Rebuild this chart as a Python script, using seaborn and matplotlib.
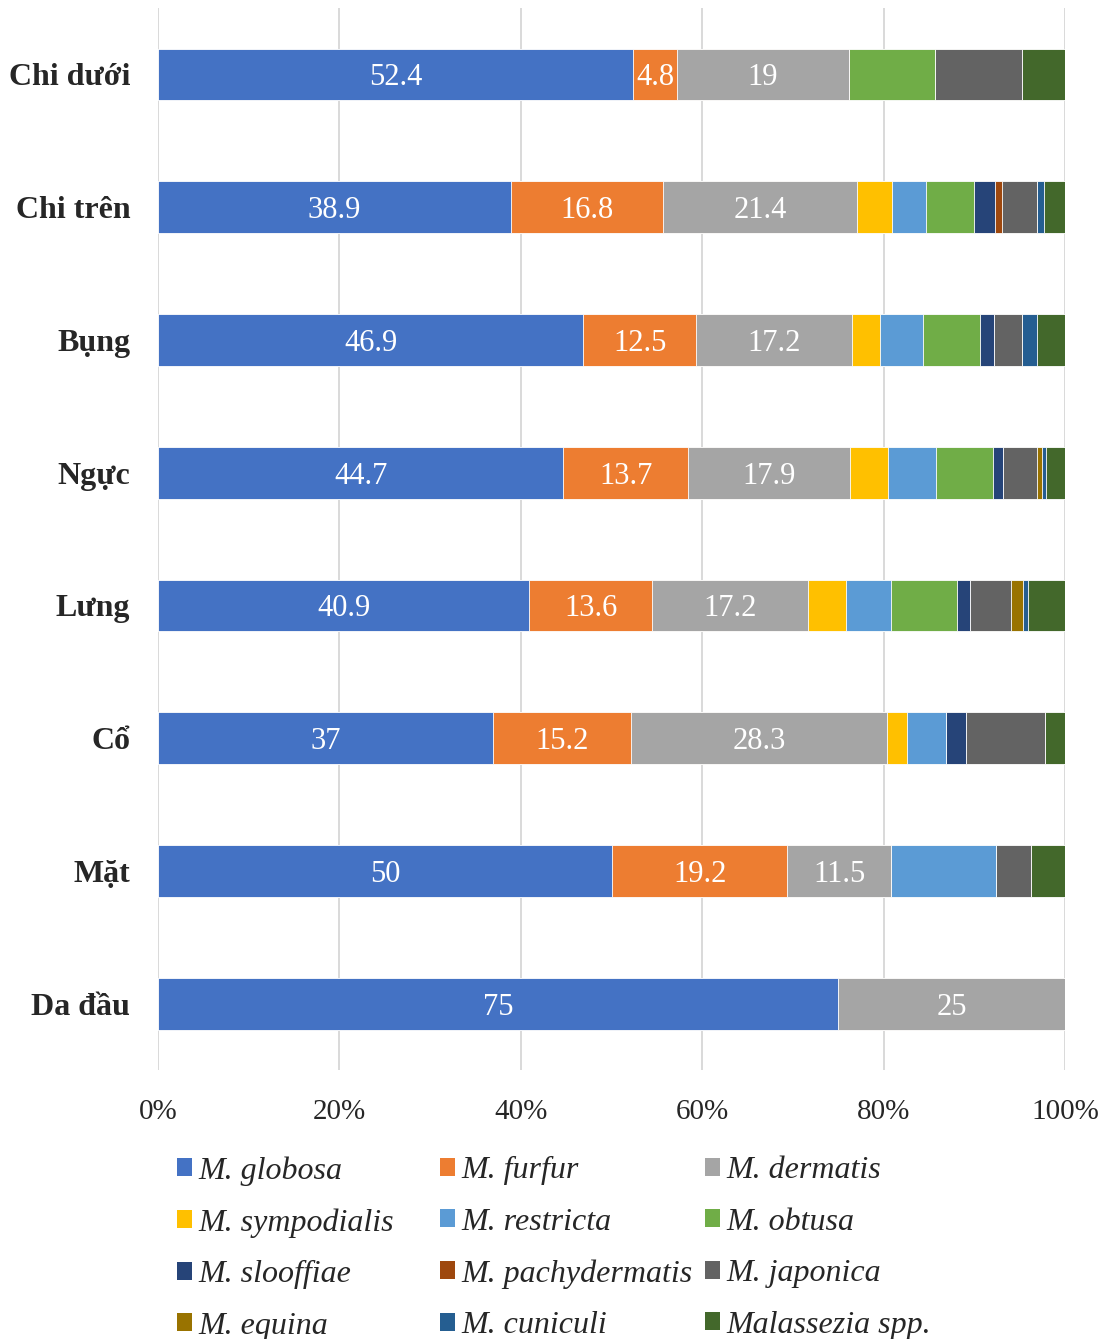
import numpy as np
import pandas as pd
import matplotlib
matplotlib.use("Agg")
import matplotlib.pyplot as plt
import seaborn as sns
from matplotlib.patches import Patch

# Body sites (top to bottom) and species shares in percent
sites = ["Chi dưới", "Chi trên", "Bụng", "Ngực", "Lưng", "Cổ", "Mặt", "Da đầu"]

globosa = [52.4, 38.9, 46.9, 44.7, 40.9, 37, 50, 75]
furfur = [4.8, 16.8, 12.5, 13.7, 13.6, 15.2, 19.2, 0]
dermatis = [19, 21.4, 17.2, 17.9, 17.2, 28.3, 11.5, 25]
sympodialis = [0, 3.8, 3.1, 4.2, 4.1, 2.2, 0, 0]
restricta = [0, 3.8, 4.7, 5.3, 5.0, 4.3, 11.5, 0]
obtusa = [9.5, 5.3, 6.3, 6.3, 7.3, 0, 0, 0]
slooffiae = [0, 2.3, 1.6, 1.1, 1.4, 2.2, 0, 0]
pachydermatis = [0, 0.8, 0, 0, 0, 0, 0, 0]
japonica = [9.5, 3.8, 3.1, 3.7, 4.5, 8.7, 3.8, 0]
equina = [0, 0, 0, 0.5, 1.4, 0, 0, 0]
cuniculi = [0, 0.8, 1.6, 0.5, 0.5, 0, 0, 0]
spp = [4.8, 2.3, 3.1, 2.1, 4.1, 2.2, 3.8, 0]

species = ["M. globosa", "M. furfur", "M. dermatis", "M. sympodialis",
           "M. restricta", "M. obtusa", "M. slooffiae", "M. pachydermatis",
           "M. japonica", "M. equina", "M. cuniculi", "Malassezia spp."]
series = [globosa, furfur, dermatis, sympodialis, restricta, obtusa,
          slooffiae, pachydermatis, japonica, equina, cuniculi, spp]
colors = ["#4472C4", "#ED7D31", "#A5A5A5", "#FFC000", "#5B9BD5", "#70AD47",
          "#264478", "#9E480E", "#636363", "#997300", "#255E91", "#43682B"]
labelled = ["M. globosa", "M. furfur", "M. dermatis"]

sns.set_theme(style="white")
plt.rcParams["font.family"] = ["Liberation Serif", "DejaVu Serif"]

wide = pd.DataFrame(dict(zip(species, series)), index=sites)
share = wide.div(wide.sum(axis=1), axis=0) * 100
cum = share.cumsum(axis=1)
start = cum - share

fig = plt.figure(figsize=(11.09, 13.39), dpi=100)
ax = fig.add_axes([0.1425, 0.2009, 0.8179, 0.7931])

# 100% stacked bars: draw cumulative totals from the last species backwards
for name, col in reversed(list(zip(species, colors))):
    d = pd.DataFrame({"site": sites, "cum": cum[name].values})
    sns.barplot(data=d, x="cum", y="site", order=sites, orient="h",
                color=col, saturation=1, width=0.39,
                edgecolor="white", linewidth=0.6, ax=ax)

# value labels on the three main species
for name in labelled:
    for i, site in enumerate(sites):
        v = wide.loc[site, name]
        if v > 0:
            xc = start.loc[site, name] + share.loc[site, name] / 2
            ax.text(xc, i, f"{v:g}", ha="center", va="center_baseline",
                    color="white", fontsize=22)

ax.set_xlim(0, 100)
ax.set_ylim(7.5, -0.5)
ax.set_xlabel("")
ax.set_ylabel("")
ax.set_xticks(np.arange(0, 101, 20))
ax.set_xticklabels([f"{t}%" for t in range(0, 101, 20)], fontsize=21)
ax.set_yticks(range(len(sites)))
ax.set_yticklabels(sites, fontsize=23, fontweight="bold")
ax.tick_params(axis="x", length=0, pad=21)
ax.tick_params(axis="y", length=0, pad=20)
ax.xaxis.grid(True, color="#D9D9D9", linewidth=1.4)
ax.set_axisbelow(True)
for s in ax.spines.values():
    s.set_visible(False)

# legend: three columns of four entries
col_x = [177, 440, 705]
for c in range(3):
    idx = [c, c + 3, c + 6, c + 9]
    handles = [Patch(facecolor=colors[k], edgecolor="none") for k in idx]
    labels = [species[k] for k in idx]
    fig.legend(handles, labels, loc="upper left",
               bbox_to_anchor=(col_x[c] / 1109, 1 - 1156 / 1339),
               frameon=False, borderpad=0, borderaxespad=0,
               handlelength=0.48, handleheight=0.48, handletextpad=0.2,
               labelspacing=0.705,
               prop={"family": ["Liberation Serif", "DejaVu Serif"],
                     "style": "italic", "size": 23})

fig.savefig("out.png", dpi=100)
